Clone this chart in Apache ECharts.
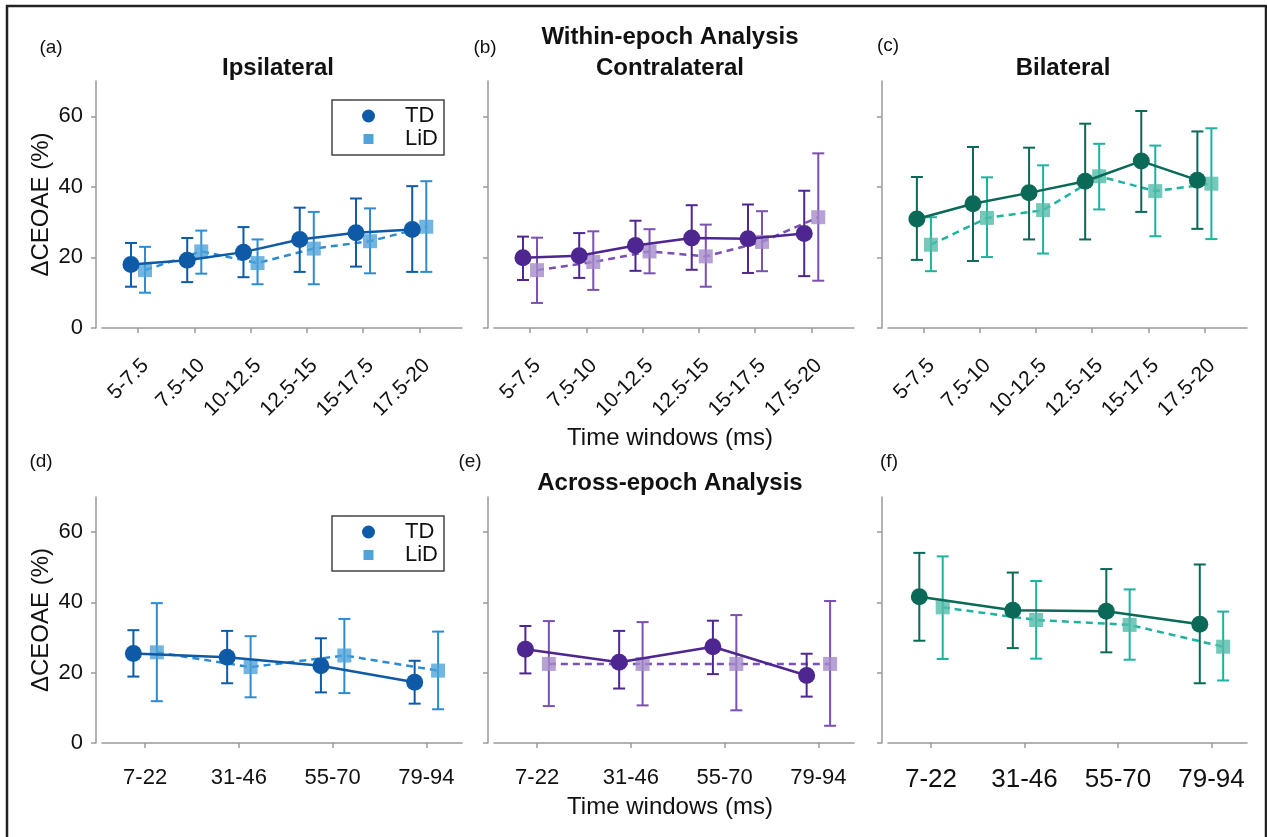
<!DOCTYPE html>
<html><head><meta charset="utf-8">
<script src="https://cdn.jsdelivr.net/npm/echarts@6/dist/echarts.min.js"></script>
<style>html,body{margin:0;padding:0;background:#fff}#c{width:1267px;height:837px}</style>
</head><body><div id="c"></div>
<script>
// ---- categories / ticks ----
const withinWindows = ['5-7.5','7.5-10','10-12.5','12.5-15','15-17.5','17.5-20'];
const acrossWindows = ['7-22','31-46','55-70','79-94'];
const yTicks = [0, 20, 40, 60];

// ---- (a) Ipsilateral ----
const ipsiTD     = [18.0, 19.2, 21.5, 25.1, 27.0, 27.9];
const ipsiTDci   = [[11.7,24.1],[13.0,25.5],[14.4,28.6],[15.9,34.1],[17.4,36.7],[15.9,40.2]];
const ipsiLiD    = [16.4, 21.7, 18.4, 22.5, 24.6, 28.7];
const ipsiLiDci  = [[10.0,23.0],[15.4,27.6],[12.4,25.1],[12.4,32.9],[15.5,33.9],[15.9,41.6]];
// ---- (b) Contralateral ----
const contraTD    = [19.9, 20.5, 23.4, 25.5, 25.3, 26.8];
const contraTDci  = [[13.6,25.9],[14.2,26.9],[16.2,30.4],[16.5,34.8],[15.6,35.0],[14.7,38.9]];
const contraLiD   = [16.4, 18.7, 21.7, 20.3, 24.4, 31.4];
const contraLiDci = [[7.1,25.6],[10.8,27.4],[15.5,28.0],[11.7,29.3],[16.1,33.1],[13.4,49.5]];
// ---- (c) Bilateral ----
const bilatTD    = [30.9, 35.2, 38.3, 41.6, 47.3, 41.9];
const bilatTDci  = [[19.3,42.8],[19.0,51.3],[25.1,51.1],[25.1,57.9],[32.9,61.5],[28.1,55.7]];
const bilatLiD   = [23.6, 31.2, 33.4, 43.0, 38.8, 40.9];
const bilatLiDci = [[16.1,31.4],[20.1,42.7],[21.1,46.1],[33.6,52.2],[26.0,51.7],[25.2,56.6]];
// ---- (d) Across ipsilateral ----
const dTD    = [25.5, 24.4, 22.0, 17.3];
const dTDci  = [[18.9,32.1],[17.0,31.9],[14.4,29.8],[11.2,23.4]];
const dLiD   = [25.8, 21.6, 24.9, 20.6];
const dLiDci = [[11.9,39.8],[13.0,30.4],[14.2,35.3],[9.6,31.7]];
// ---- (e) Across contralateral ----
const eTD    = [26.7, 23.0, 27.4, 19.2];
const eTDci  = [[19.8,33.3],[15.5,31.9],[19.6,34.8],[13.2,25.4]];
const eLiD   = [22.5, 22.5, 22.5, 22.5];
const eLiDci = [[10.5,34.7],[10.7,34.4],[9.3,36.4],[4.9,40.4]];
// ---- (f) Across bilateral ----
const fTD    = [41.6, 37.8, 37.5, 33.8];
const fTDci  = [[29.1,54.1],[27.0,48.5],[25.8,49.5],[17.0,50.8]];
const fLiD   = [38.6, 35.0, 33.6, 27.4];
const fLiDci = [[23.9,53.1],[24.0,46.1],[23.7,43.7],[17.8,37.4]];

const FONT = "'Liberation Sans', Arial, Helvetica, sans-serif";
const blue   = {td:'#0e5aa7', lid:'#4ea3d8', lidLine:'#2c8bd3'};
const purple = {td:'#4e2690', lid:'#a58bc9', lidLine:'#7a50b4'};
const green  = {td:'#0b6957', lid:'#52bcaa', lidLine:'#1db39e'};

const panels = [
  {grid:{left:102,top:81,width:360,height:247}, cats:withinWindows, td:ipsiTD, tdCI:ipsiTDci, lid:ipsiLiD, lidCI:ipsiLiDci, col:blue, yLab:true, rot:45, fs:21, xmin:0.36, xmax:6.76, xoff:9},
  {grid:{left:494,top:81,width:360,height:247}, cats:withinWindows, td:contraTD, tdCI:contraTDci, lid:contraLiD, lidCI:contraLiDci, col:purple, yLab:false, rot:45, fs:21, xmin:0.36, xmax:6.76, xoff:9},
  {grid:{left:888,top:81,width:359,height:247}, cats:withinWindows, td:bilatTD, tdCI:bilatTDci, lid:bilatLiD, lidCI:bilatLiDci, col:green, yLab:false, rot:45, fs:21, xmin:0.36, xmax:6.76, xoff:9},
  {grid:{left:102,top:497,width:360,height:246}, cats:acrossWindows, td:dTD, tdCI:dTDci, lid:dLiD, lidCI:dLiDci, col:blue, yLab:true, rot:0, fs:22, xmin:0.54, xmax:4.38, xoff:10},
  {grid:{left:494,top:497,width:360,height:246}, cats:acrossWindows, td:eTD, tdCI:eTDci, lid:eLiD, lidCI:eLiDci, col:purple, yLab:false, rot:0, fs:22, xmin:0.54, xmax:4.38, xoff:10},
  {grid:{left:888,top:497,width:359,height:246}, cats:acrossWindows, td:fTD, tdCI:fTDci, lid:fLiD, lidCI:fLiDci, col:green, yLab:false, rot:0, fs:26, xmin:0.54, xmax:4.38, xoff:10}
];

const DX = 0.125;

function errRender(color){
  return function(params, api){
    const x = api.value(0), lo = api.value(1), hi = api.value(2);
    const p1 = api.coord([x, lo]), p2 = api.coord([x, hi]);
    const w = 6;
    const style = {stroke: color, lineWidth: 2};
    return {type:'group', children:[
      {type:'line', shape:{x1:p1[0],y1:p1[1],x2:p2[0],y2:p2[1]}, style},
      {type:'line', shape:{x1:p1[0]-w,y1:p1[1],x2:p1[0]+w,y2:p1[1]}, style},
      {type:'line', shape:{x1:p2[0]-w,y1:p2[1],x2:p2[0]+w,y2:p2[1]}, style}
    ]};
  };
}

const grids = [], xAxes = [], yAxes = [], series = [];
panels.forEach((p, i) => {
  grids.push(Object.assign({containLabel:false}, p.grid));
  const xVals = p.cats.map((c, k) => k + 1);
  xAxes.push({
    type:'value', gridIndex:i, min:p.xmin, max:p.xmax, offset:p.xoff,
    axisLine:{show:true, lineStyle:{color:'#9a9a9a', width:1.5}},
    axisTick:{show:true, length:5, customValues:xVals, lineStyle:{color:'#9a9a9a', width:1.5}},
    axisLabel:{show:true, customValues:xVals, rotate:p.rot, margin:p.rot ? 18 : 14,
      verticalAlign:'top',
      color:'#111', fontFamily:FONT, fontSize:p.fs,
      formatter: v => p.cats[Math.round(v) - 1]},
    splitLine:{show:false}
  });
  yAxes.push({
    type:'value', gridIndex:i, min:0, max:70, offset:6,
    name: p.yLab ? 'ΔCEOAE (%)' : '', nameLocation:'middle', nameGap:43,
    nameTextStyle:{fontFamily:FONT, fontSize:24, color:'#111'},
    axisLine:{show:true, lineStyle:{color:'#9a9a9a', width:1.5}},
    axisTick:{show:true, length:5, customValues:yTicks, lineStyle:{color:'#9a9a9a', width:1.5}},
    axisLabel:{show:p.yLab, customValues:yTicks, margin:13, color:'#111', fontFamily:FONT, fontSize:22},
    splitLine:{show:false}
  });
  const tdPts  = p.td.map((v, k) => [k + 1 - DX, v]);
  const lidPts = p.lid.map((v, k) => [k + 1 + DX, v]);
  const tdErr  = p.tdCI.map((c, k) => [k + 1 - DX, c[0], c[1]]);
  const lidErr = p.lidCI.map((c, k) => [k + 1 + DX, c[0], c[1]]);
  series.push({type:'custom', name:'LiD', xAxisIndex:i, yAxisIndex:i, renderItem:errRender(p.col.lidLine),
    encode:{x:0, y:[1,2]}, data:lidErr, z:2, silent:true});
  series.push({type:'line', name:'LiD', xAxisIndex:i, yAxisIndex:i, data:lidPts, z:3,
    symbol:'rect', symbolSize:14,
    itemStyle:{color:p.col.lid, opacity:0.8},
    lineStyle:{color:p.col.lidLine, width:2.5, type:[7,5]}});
  series.push({type:'custom', name:'TD', xAxisIndex:i, yAxisIndex:i, renderItem:errRender(p.col.td),
    encode:{x:0, y:[1,2]}, data:tdErr, z:4, silent:true});
  series.push({type:'line', name:'TD', xAxisIndex:i, yAxisIndex:i, data:tdPts, z:5,
    symbol:'circle', symbolSize:17,
    itemStyle:{color:p.col.td, opacity:1},
    lineStyle:{color:p.col.td, width:2.5}});
});

const circleIcon = 'path://M0,0 M38,13 M13,6.5 A6.5,6.5 0 1 1 0,6.5 A6.5,6.5 0 1 1 13,6.5 Z';
const rectIcon   = 'path://M0,0 M38,13 M1.5,1.5 L11.5,1.5 L11.5,11.5 L1.5,11.5 Z';
function legendAt(top){
  return {
    left:332, top:top, orient:'vertical', itemWidth:38, itemHeight:13, itemGap:1,
    padding:[5, 6, 5, 30], borderColor:'#444', borderWidth:1.5, backgroundColor:'#fff',
    textStyle:{fontFamily:FONT, fontSize:22, color:'#111'},
    selectedMode:false,
    data:[
      {name:'TD', icon:circleIcon, itemStyle:{color:blue.td}},
      {name:'LiD', icon:rectIcon, itemStyle:{color:blue.lid}}
    ]
  };
}

function txt(x, y, text, size, bold){
  return {type:'text', x:x, y:y, silent:true, z:100,
    style:{text:text, align:'center', verticalAlign:'middle', fill:'#111',
      fontFamily:FONT, fontSize:size, fontWeight: bold ? 'bold' : 'normal'}};
}

const texts = [
  txt(51, 48, '(a)', 19), txt(485, 48, '(b)', 19), txt(888, 46, '(c)', 19),
  txt(41, 462, '(d)', 19), txt(470, 462, '(e)', 19), txt(889, 462, '(f)', 19),
  txt(278, 68, 'Ipsilateral', 24, true),
  txt(670, 37, 'Within-epoch Analysis', 24, true),
  txt(670, 68, 'Contralateral', 24, true),
  txt(1063, 68, 'Bilateral', 24, true),
  txt(670, 483, 'Across-epoch Analysis', 24, true),
  txt(670, 438, 'Time windows (ms)', 24),
  txt(670, 807, 'Time windows (ms)', 24),
  {type:'rect', silent:true, z:100, shape:{x:7, y:6, width:1259, height:845},
    style:{fill:'none', stroke:'#222', lineWidth:2.5}}
];

const chart = echarts.init(document.getElementById('c'), null, {renderer:'canvas'});
chart.setOption({
  animation:false,
  backgroundColor:'#fff',
  grid:grids, xAxis:xAxes, yAxis:yAxes, series:series,
  legend:[legendAt(100), legendAt(516)],
  graphic:texts
});
</script></body></html>
